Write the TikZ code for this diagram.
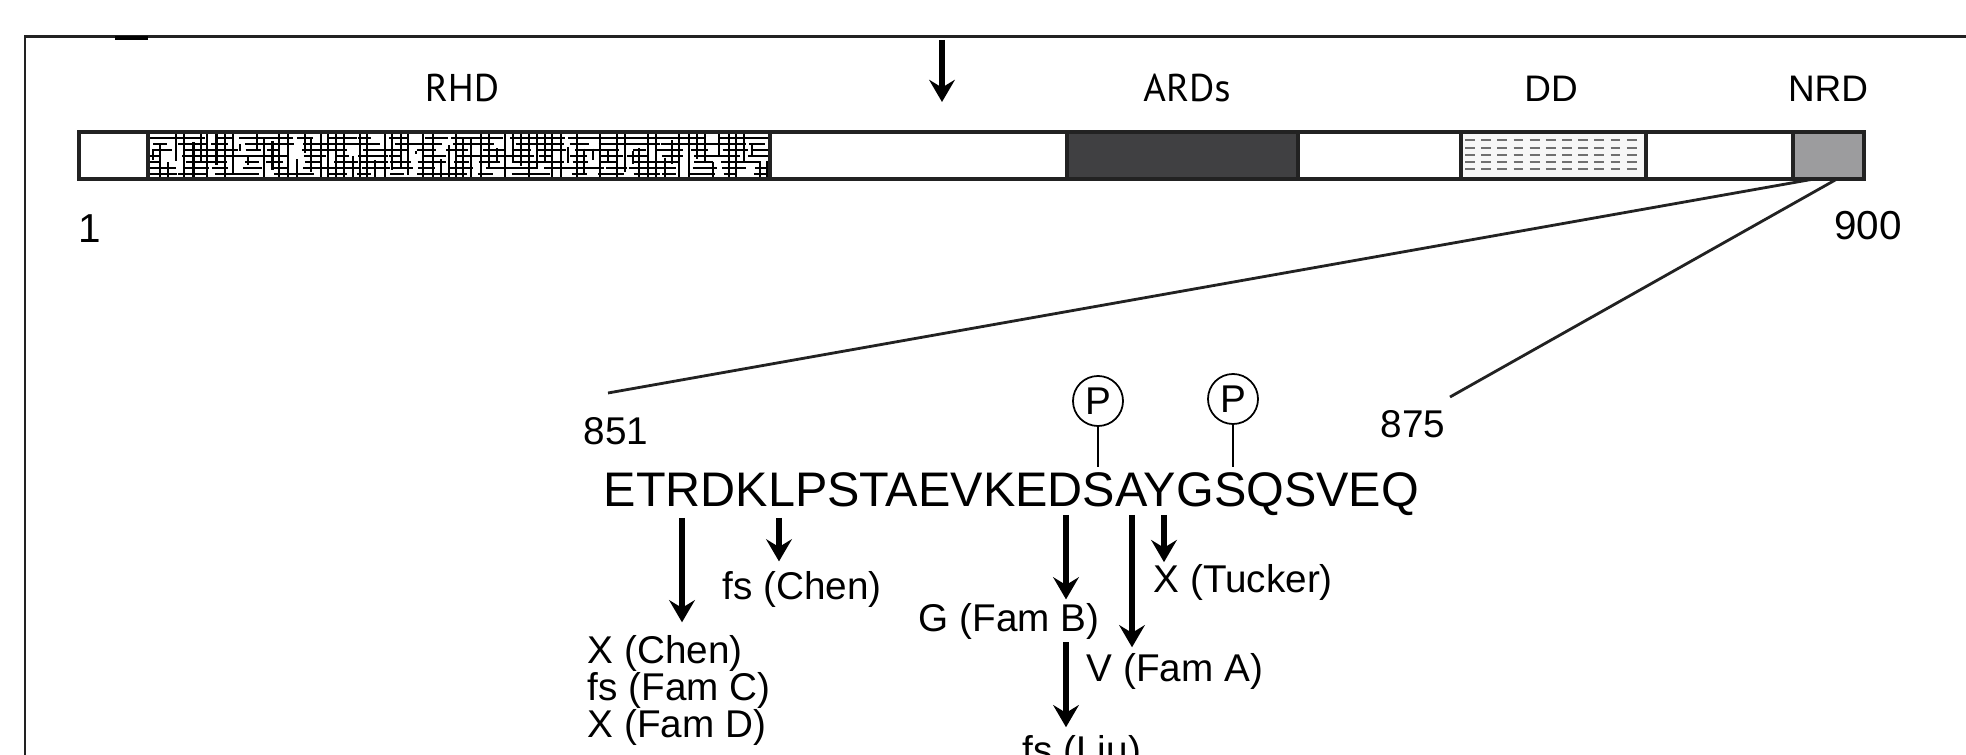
\documentclass[tikz,border=0pt]{standalone}
\usepackage{fontspec}
\setmainfont{Liberation Sans}
\newfontfamily\domfont{PT Sans}
\usetikzlibrary{arrows.meta,positioning}
\definecolor{framegray}{HTML}{222222}
\definecolor{ardgray}{HTML}{404042}
\definecolor{nrdgray}{HTML}{9C9C9E}
\definecolor{ddfill}{HTML}{F7F7F7}
\definecolor{ddline}{HTML}{707070}
\tikzset{
  dombox/.style={draw=framegray, line width=0.95pt},
  maze/.style={line width=0.6pt, black},
  domlabel/.style={font=\domfont\fontsize{11}{13}\selectfont, anchor=base, inner sep=0pt},
  numlabel/.style={font=\fontsize{11.5}{13}\selectfont, inner sep=0pt},
  mutlabel/.style={font=\fontsize{11}{13}\selectfont, anchor=base west, inner sep=0pt},
  pcirc/.style={draw, circle, line width=0.5pt, minimum size=0.5cm, inner sep=0pt,
    font=\fontsize{11}{12}\selectfont},
  mut/.style={line width=1.7pt, -{Stealth[length=6.3pt, width=7.3pt, inset=2.2pt]}},
  zoomline/.style={line width=0.8pt, framegray}
}

\begin{document}
\begin{tikzpicture}[x=0.01cm, y=-0.01cm]
\useasboundingbox (0,0) rectangle (1966,755);
\clip (0,0) rectangle (1966,755);
\fill[white] (0,0) rectangle (1966,755);

% panel frame
\draw[framegray, line width=0.85pt] (25,770) -- (25,37) -- (1980,37);
\fill[black] (115,36.5) rectangle (148,40);

% protein bar
\draw[dombox, fill=white] (79,132) rectangle (1864,179);
\begin{scope}
  \clip (148,132) rectangle (770,179);
  \pgfmathsetseed{1966}
  \foreach \i in {0,...,77} {
    \pgfmathsetmacro\xv{151+\i*8+2.5*rnd}
    \pgfmathsetmacro\ya{ifthenelse(rnd<0.6,132,138+25*rnd)}
    \pgfmathsetmacro\yb{ifthenelse(rnd<0.6,179,150+25*rnd)}
    \draw[maze] (\xv,\ya) -- (\xv,\yb);
  }
  \foreach \j in {0,...,6} {
    \foreach \k in {0,...,20} {
      \pgfmathsetmacro\xa{146+\k*30+10*rnd}
      \pgfmathsetmacro\xb{\xa+12+24*rnd}
      \draw[maze] (\xa,138+\j*6) -- (\xb,138+\j*6);
    }
  }
\end{scope}
\draw[dombox] (148,132) rectangle (770,179);
\draw[dombox, fill=ardgray] (1067,132) rectangle (1298,179);
\draw[dombox, fill=ddfill] (1461,132) rectangle (1646,179);
\foreach \yy in {140,148,155,162,169}
  \draw[ddline, line width=0.55pt, dash pattern=on 2.8pt off 1.8pt] (1465,\yy) -- (1642,\yy);
\draw[dombox, line width=1.2pt, fill=nrdgray] (1793,132) rectangle (1864,179);

% domain names
\node[domlabel] (rhd) at (462,102) {RHD};
\node[domlabel] (ards) at (1187,102) {ARDs};
\node[domlabel, font=\fontsize{10.5}{12}\selectfont] (dd) at (1551,102) {DD};
\node[domlabel, font=\fontsize{10.5}{12}\selectfont] (nrd) at (1828,102) {NRD};

\coordinate (cutA) at (942,40);
\coordinate (cutB) at (942,102);
\draw[mut] (cutA) -- (cutB);

\node[numlabel, anchor=base west] (n1) at (78,243) {1};
\node[numlabel, anchor=base] (n900) at (1868,240) {900};

% zoom into the NRD
\coordinate (nrdL) at (1814,179);
\coordinate (nrdR) at (1837,179);
\coordinate (z851) at (608,393);
\coordinate (z875) at (1450,397);
\draw[zoomline] (nrdL) -- (z851);
\draw[zoomline] (nrdR) -- (z875);

\node[numlabel, font=\fontsize{11}{13}\selectfont, anchor=base west] (n851) at (583,445) {851};
\node[numlabel, font=\fontsize{11}{13}\selectfont, anchor=base west] (n875) at (1380,438) {875};

\node[font=\fontsize{13.8}{16}\selectfont, anchor=base west, inner sep=0pt] (seq) at (603,507)
  {ETRDKLPSTAEVKEDSAYGSQSVEQ};

% phospho sites
\node[pcirc] (p1) at (1098,401) {P};
\node[pcirc] (p2) at (1233,399) {P};
\coordinate (sS1) at (1098,467);
\coordinate (sS2) at (1233,467);
\draw[line width=0.5pt] (p1) -- (sS1);
\draw[line width=0.5pt] (p2) -- (sS2);

% mutations
\coordinate (sR) at (682,518);
\coordinate (sL) at (779,518);
\coordinate (sD) at (1066,515);
\coordinate (sA) at (1132,515);
\coordinate (sY) at (1164,515);

\node[mutlabel] (chenX) at (587,663) {X (Chen)};
\node[mutlabel] (famC) at (587,700) {fs (Fam C)};
\node[mutlabel] (famD) at (587,737) {X (Fam D)};
\node[mutlabel] (chenfs) at (722,600) {fs (Chen)};
\node[mutlabel] (famB) at (918,632) {G (Fam B)};
\node[mutlabel] (famA) at (1086,682) {V (Fam A)};
\node[mutlabel] (tucker) at (1153,593) {X (Tucker)};
\node[mutlabel] (liu) at (1022,763) {fs (Liu)};

\draw[mut, shorten >=3.4pt] (sR) -- (sR |- chenX.north);
\draw[mut, shorten >=2.8pt] (sL) -- (sL |- chenfs.north);
\draw[mut, shorten >=1.1pt] (sD) -- (sD |- famB.north);
\draw[mut, shorten >=1.7pt] (sA) -- (sA |- famA.north);
\draw[mut, shorten >=0.6pt] (sY) -- (sY |- tucker.north);
\draw[mut, shorten <=0.5pt, shorten >=2pt] (sD |- famB.south) -- (sD |- liu.north);
\end{tikzpicture}
\end{document}
